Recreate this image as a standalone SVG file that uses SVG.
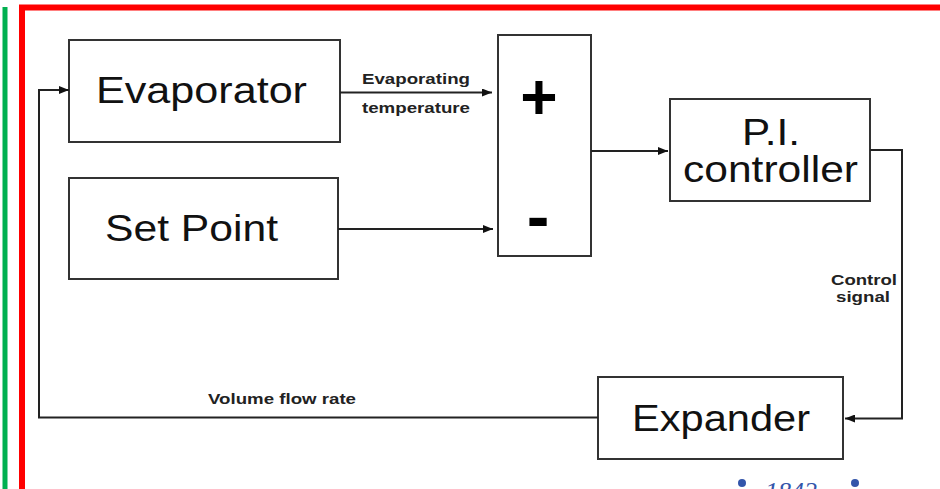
<svg xmlns="http://www.w3.org/2000/svg" width="940" height="489" viewBox="0 0 940 489">
<defs>
<marker id="ah" viewBox="0 0 10 8" refX="10" refY="4" markerWidth="10" markerHeight="8" markerUnits="userSpaceOnUse" orient="auto">
<path d="M0,0 L10,4 L0,8 z" fill="#111"/>
</marker>
</defs>
<style>
.box{fill:#fff;stroke:#333;stroke-width:2}
.big{font-family:"Liberation Sans",Arial,sans-serif;font-size:36px;fill:#111}
.lbl{font-family:"Liberation Sans",Arial,sans-serif;font-size:15px;font-weight:bold;fill:#222}
.sign{font-family:"Liberation Sans",Arial,sans-serif;font-weight:bold;fill:#000;text-anchor:middle}
.wire{fill:none;stroke:#222;stroke-width:2}
</style>
<rect width="940" height="489" fill="#fff"/>
<line x1="5" y1="7" x2="5" y2="489" stroke="#00b050" stroke-width="5"/>
<path d="M22,489 V7.5 H940" fill="none" stroke="#ff0000" stroke-width="6"/>

<g id="evaporator">
<rect class="box" x="69" y="40" width="271" height="102"/>
<text class="big" x="96" y="103" textLength="211" lengthAdjust="spacingAndGlyphs">Evaporator</text>
</g>
<g id="setpoint">
<rect class="box" x="69" y="178" width="269" height="101"/>
<text class="big" x="105" y="241" textLength="173" lengthAdjust="spacingAndGlyphs">Set Point</text>
</g>
<g id="summer">
<rect class="box" x="498" y="35" width="93" height="221"/>
<text class="sign" x="539" y="119" font-size="64">+</text>
<text class="sign" x="538" y="240" font-size="68">-</text>
</g>
<g id="pi">
<rect class="box" x="670" y="99" width="200" height="102"/>
<text class="big" x="742" y="145" textLength="58" lengthAdjust="spacingAndGlyphs">P.I.</text>
<text class="big" x="683" y="182" textLength="175" lengthAdjust="spacingAndGlyphs">controller</text>
</g>
<g id="expander">
<rect class="box" x="598" y="377" width="245" height="82"/>
<text class="big" x="632" y="431" textLength="178" lengthAdjust="spacingAndGlyphs">Expander</text>
</g>

<g id="connectors">
<line class="wire" x1="340" y1="92.5" x2="492" y2="92.5" marker-end="url(#ah)"/>
<line class="wire" x1="338" y1="229" x2="493" y2="229" marker-end="url(#ah)"/>
<line class="wire" x1="591" y1="151" x2="668" y2="151" marker-end="url(#ah)"/>
<path class="wire" d="M870,150 H902 V418.5 H845" marker-end="url(#ah)"/>
<path class="wire" d="M598,417.5 H39 V90 H69" marker-end="url(#ah)"/>
<text class="lbl" x="362" y="84" textLength="108" lengthAdjust="spacingAndGlyphs">Evaporating</text>
<text class="lbl" x="362" y="113" textLength="108" lengthAdjust="spacingAndGlyphs">temperature</text>
<text class="lbl" x="831" y="285" textLength="66" lengthAdjust="spacingAndGlyphs">Control</text>
<text class="lbl" x="836" y="302" textLength="54" lengthAdjust="spacingAndGlyphs">signal</text>
<text class="lbl" x="208" y="404" textLength="148" lengthAdjust="spacingAndGlyphs">Volume flow rate</text>
</g>

<g id="logo" fill="#3355aa">
<circle cx="742" cy="483" r="4"/>
<circle cx="855" cy="483" r="4"/>
<text x="765" y="500" font-family="Liberation Serif,serif" font-style="italic" font-size="26">1842</text>
</g>
</svg>
